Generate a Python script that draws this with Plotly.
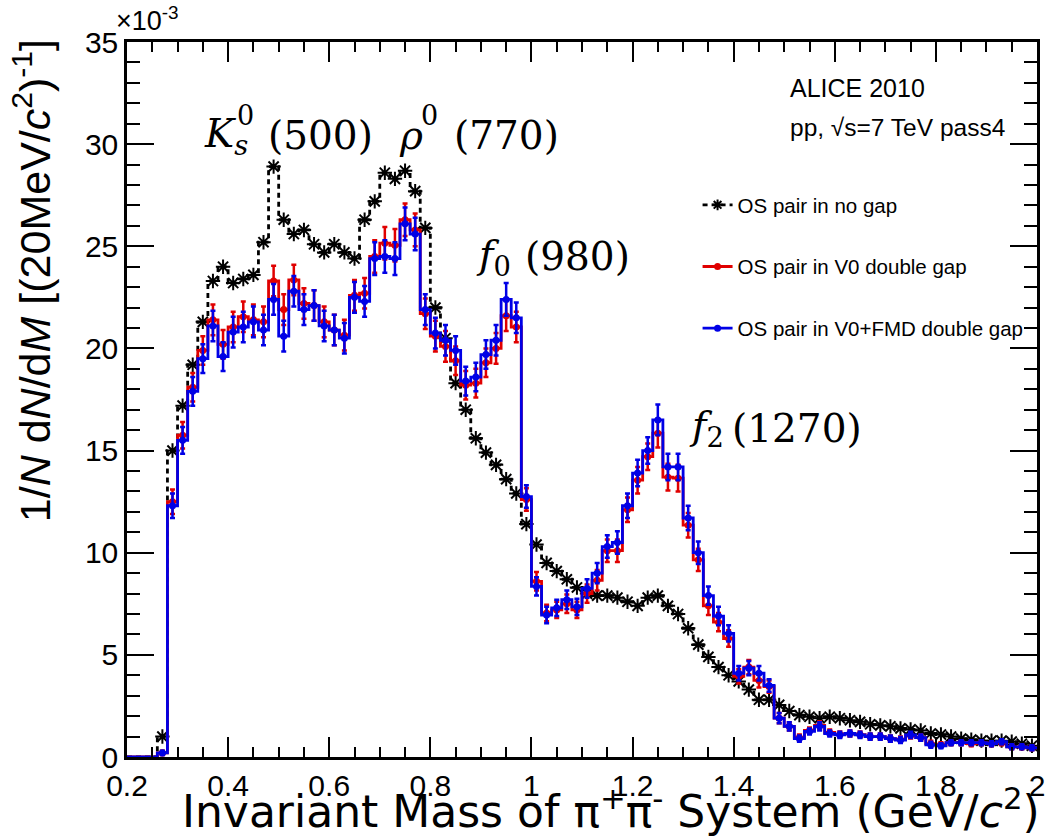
import numpy as np
import plotly.graph_objects as go

# 20 MeV/c^2 bins from 0.2 to 2.0 GeV/c^2 (bin centres)
BIN_WIDTH = 0.02
mass_bins = np.round(0.21 + BIN_WIDTH * np.arange(90), 2)

# 1/N dN/dM in units of 1e-3, ten bins per row (0.21, 0.41, ..., 1.81 first)
no_gap = [
    0, 0, 0, 1.0, 15.0, 17.2, 19.2, 21.3, 23.3, 24.0,
    23.2, 23.4, 23.6, 25.2, 28.9, 26.3, 25.6, 25.8, 25.1, 24.7,
    25.1, 24.7, 24.4, 26.3, 27.2, 28.6, 28.3, 28.7, 27.7, 25.9,
    22.0, 20.5, 18.3, 17.0, 15.6, 14.9, 14.3, 13.6, 12.9, 11.4,
    10.4, 9.5, 9.1, 8.7, 8.3, 8.0, 7.9, 7.9, 7.8, 7.6,
    7.4, 7.8, 7.9, 7.4, 7.0, 6.3, 5.5, 4.9, 4.4, 4.0,
    3.7, 3.3, 2.8, 2.8, 2.55, 2.25, 2.05, 1.97, 1.9, 1.97,
    1.9, 1.8, 1.72, 1.6, 1.55, 1.5, 1.4, 1.35, 1.3, 1.15,
    1.1, 1.0, 0.9, 0.85, 0.8, 0.8, 0.8, 0.75, 0.65, 0.55,
]

v0_gap = [
    0, 0, 0, 0.2, 12.5, 15.75, 18.1, 19.9, 21.4, 20.2,
    21.05, 21.55, 21.4, 21.3, 23.3, 21.9, 23.35, 22.2, 22.1, 21.3,
    20.9, 20.65, 22.6, 22.7, 24.5, 25.15, 25.05, 26.3, 25.8, 21.7,
    20.6, 20.1, 19.4, 18.2, 18.3, 19.3, 20.0, 21.6, 21.05, 12.6,
    8.6, 7.05, 7.2, 7.5, 7.2, 8.0, 8.65, 10.1, 10.1, 12.1,
    13.55, 14.7, 15.85, 13.7, 13.65, 11.35, 9.65, 7.4, 6.6, 5.8,
    3.95, 4.4, 3.75, 3.45, 1.9, 1.5, 0.95, 1.3, 1.55, 1.2,
    1.1, 1.15, 1.1, 1.0, 1.0, 0.9, 0.85, 1.05, 0.95, 0.65,
    0.6, 0.7, 0.7, 0.65, 0.7, 0.65, 0.7, 0.5, 0.5, 0.45,
]

v0_gap_err = [
    0, 0, 0, 0.1, 0.6, 0.65, 0.7, 0.7, 0.75, 0.7,
    0.75, 0.75, 0.75, 0.75, 0.75, 0.75, 0.75, 0.75, 0.75, 0.75,
    0.75, 0.75, 0.75, 0.75, 0.8, 0.8, 0.8, 0.8, 0.8, 0.75,
    0.75, 0.75, 0.7, 0.7, 0.7, 0.7, 0.75, 0.75, 0.75, 0.55,
    0.45, 0.4, 0.4, 0.45, 0.4, 0.45, 0.5, 0.55, 0.55, 0.6,
    0.65, 0.65, 0.7, 0.65, 0.65, 0.6, 0.55, 0.45, 0.45, 0.4,
    0.35, 0.35, 0.35, 0.3, 0.25, 0.2, 0.15, 0.15, 0.2, 0.15,
    0.15, 0.15, 0.15, 0.15, 0.15, 0.15, 0.15, 0.15, 0.15, 0.15,
    0.12, 0.12, 0.12, 0.12, 0.12, 0.12, 0.12, 0.12, 0.12, 0.12,
]

v0_fmd_gap = [
    0, 0, 0, 0.2, 12.3, 15.5, 17.9, 19.5, 21.1, 19.6,
    20.8, 21.05, 21.3, 20.9, 22.4, 20.6, 22.8, 21.9, 22.1, 21.1,
    20.9, 20.5, 22.5, 22.3, 24.4, 24.5, 24.4, 26.1, 25.6, 21.9,
    20.75, 20.4, 19.9, 18.4, 18.6, 19.7, 20.4, 22.4, 21.5, 12.75,
    8.35, 6.95, 7.3, 7.7, 7.35, 8.25, 9.0, 10.3, 10.5, 12.3,
    13.9, 15.0, 16.5, 14.2, 14.2, 11.7, 10.0, 7.9, 6.9, 6.05,
    4.1, 4.35, 4.1, 3.5, 1.9, 1.5, 0.9, 1.25, 1.5, 1.15,
    1.08, 1.15, 1.08, 1.0, 1.0, 0.9, 0.83, 1.08, 0.95, 0.6,
    0.55, 0.7, 0.7, 0.7, 0.7, 0.65, 0.75, 0.5, 0.5, 0.45,
]

v0_fmd_gap_err = [
    0, 0, 0, 0.1, 0.6, 0.65, 0.7, 0.7, 0.75, 0.7,
    0.75, 0.75, 0.75, 0.75, 0.75, 0.75, 0.75, 0.75, 0.75, 0.75,
    0.75, 0.75, 0.75, 0.75, 0.8, 0.8, 0.8, 0.8, 0.8, 0.75,
    0.75, 0.75, 0.7, 0.7, 0.7, 0.7, 0.75, 0.8, 0.75, 0.55,
    0.45, 0.4, 0.4, 0.45, 0.4, 0.45, 0.5, 0.55, 0.55, 0.6,
    0.65, 0.65, 0.75, 0.65, 0.65, 0.6, 0.55, 0.45, 0.45, 0.4,
    0.35, 0.35, 0.35, 0.3, 0.25, 0.2, 0.15, 0.15, 0.2, 0.15,
    0.15, 0.15, 0.15, 0.15, 0.15, 0.15, 0.15, 0.15, 0.15, 0.15,
    0.12, 0.12, 0.12, 0.12, 0.12, 0.12, 0.12, 0.12, 0.12, 0.12,
]

series = [
    dict(name="OS pair in no gap", y=no_gap, err=None, color="black",
         dash="5px,4px", symbol="asterisk-open", size=12),
    dict(name="OS pair in V0 double gap", y=v0_gap, err=v0_gap_err,
         color="#e00000", dash="solid", symbol="circle", size=7),
    dict(name="OS pair in V0+FMD double gap", y=v0_fmd_gap, err=v0_fmd_gap_err,
         color="#0000e6", dash="solid", symbol="circle", size=7),
]

SANS = "Liberation Sans, Arial, Helvetica, sans-serif"
WIDE_SANS = "DejaVu Sans, Liberation Sans, sans-serif"
SERIF = "DejaVu Serif, serif"

fig = go.Figure()
edges = list(np.round(mass_bins - BIN_WIDTH / 2, 3)) + [round(mass_bins[-1] + BIN_WIDTH / 2, 3)]

for i, s in enumerate(series):
    vals = s["y"]
    # histogram outline drawn at the bin edges
    fig.add_trace(go.Scatter(
        x=edges, y=list(vals) + [vals[-1]], mode="lines", line_shape="hv",
        line=dict(color=s["color"], width=2.8, dash=s["dash"]),
        showlegend=False, hoverinfo="skip",
    ))
    # points with statistical errors at the bin centres (empty bins skipped)
    keep = [k for k, v in enumerate(vals) if v > 0]
    err = None
    if s["err"] is not None:
        err = dict(type="data", array=[s["err"][k] for k in keep],
                   color=s["color"], thickness=2.5, width=2.5)
    marker = dict(color=s["color"], size=s["size"], symbol=s["symbol"])
    if s["symbol"].endswith("open"):
        marker["line"] = dict(color=s["color"], width=2)
    fig.add_trace(go.Scatter(
        x=[mass_bins[k] for k in keep], y=[vals[k] for k in keep],
        mode="markers", marker=marker, error_y=err, showlegend=False,
    ))
    # legend entry: line with marker
    fig.add_trace(go.Scatter(
        x=[None], y=[None], mode="lines+markers", name=s["name"],
        legendgroup=f"g{i}",
        line=dict(color=s["color"], width=2.8, dash=s["dash"]),
        marker=dict(marker, size=min(s["size"], 9)),
    ))

axis_common = dict(
    showline=True, linecolor="black", linewidth=2.5, mirror="allticks",
    ticks="inside", tickcolor="black", tickwidth=2, showgrid=False,
    zeroline=False, tickfont=dict(family=SANS, size=30, color="black"),
)

fig.update_xaxes(range=[0.2, 2.0], tick0=0.2, dtick=0.2, ticklen=20,
                 minor=dict(ticks="inside", dtick=0.05, ticklen=10,
                            tickwidth=2, tickcolor="black"),
                 **axis_common)
fig.update_yaxes(range=[0, 35], tick0=0, dtick=5, ticklen=27,
                 minor=dict(ticks="inside", dtick=1, ticklen=13,
                            tickwidth=2, tickcolor="black"),
                 **axis_common)


def label(text, x, y, size, xref="x", yref="y", family=SERIF, **kw):
    return dict(text=text, x=x, y=y, xref=xref, yref=yref, xanchor="left",
                yanchor="middle", showarrow=False,
                font=dict(family=family, size=size, color="black"), **kw)


RES_SIZE = 39
SUP_SIZE = 27
annotations = [
    # axis titles
    dict(text="Invariant Mass of π<sup>+</sup>π<sup>-</sup> System (GeV/<i>c</i><sup>2</sup>)",
         xref="paper", yref="paper", x=1.006, y=0, xanchor="right", yanchor="top",
         yshift=-21, showarrow=False, font=dict(family=WIDE_SANS, size=44, color="black")),
    dict(text="1/<i>N</i> d<i>N</i>/d<i>M</i> [(20MeV/<i>c</i><sup>2</sup>)<sup>-1</sup>]",
         xref="paper", yref="paper", x=0, y=1.006, xanchor="right", yanchor="top",
         xshift=-66, textangle=-90, showarrow=False,
         font=dict(family=SANS, size=43, color="black")),
    dict(text="×10<sup>-3</sup>", xref="paper", yref="paper", x=0, y=1,
         xanchor="left", yanchor="bottom", xshift=-13, yshift=4, showarrow=False,
         font=dict(family=SANS, size=27, color="black")),
    # experiment labels
    label("ALICE 2010", 0.726, 0.935, 25, xref="paper", yref="paper", family=SANS),
    label("pp, √s=7 TeV pass4", 0.726, 0.88, 24.5, xref="paper", yref="paper", family=SANS),
    # resonance labels
    label("<i>K</i><sub><i>s</i></sub>", 0.349, 30.4, RES_SIZE),
    label("0", 0.413, 31.4, SUP_SIZE),
    label("(500)", 0.474, 30.4, RES_SIZE),
    label("<i>ρ</i>", 0.735, 30.4, RES_SIZE),
    label("0", 0.778, 31.4, SUP_SIZE),
    label("(770)", 0.842, 30.4, RES_SIZE),
    label("<i>f</i><sub>0</sub>", 0.886, 24.5, RES_SIZE),
    label("(980)", 0.984, 24.5, RES_SIZE),
    label("<i>f</i><sub>2</sub>", 1.308, 16.1, RES_SIZE),
    label("(1270)", 1.392, 16.1, RES_SIZE),
]

fig.update_layout(
    width=1056, height=840,
    margin=dict(l=127, r=11, t=42, b=83),
    plot_bgcolor="white", paper_bgcolor="white",
    annotations=annotations,
    legend=dict(x=0.627, y=0.80, xanchor="left", yanchor="top",
                bgcolor="rgba(0,0,0,0)", tracegroupgap=32,
                font=dict(family=SANS, size=20.5, color="black")),
)

fig.write_html("out.html")
